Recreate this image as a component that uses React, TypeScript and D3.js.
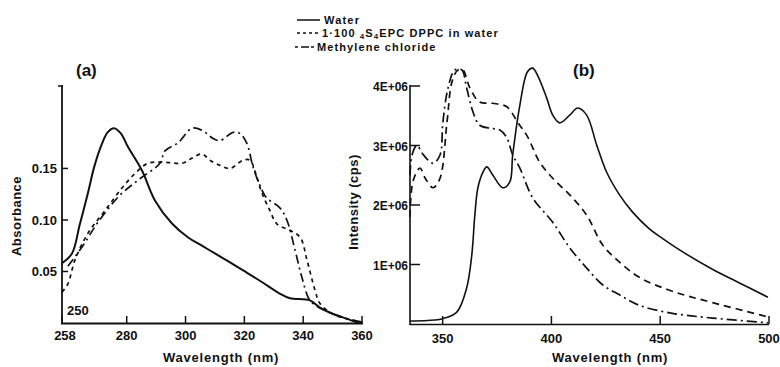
import React from "react";
import * as d3 from "d3";

// ---------- Panel (a): absorbance ----------
const waterA_nm = [258, 261.4, 264, 266.8, 269, 271.6, 273.5, 275.7, 278, 280.4, 285.2, 289.6, 295.4, 300.9, 305, 310, 315, 319.6, 325.3, 332, 335.5, 342.3, 345.7, 350, 355, 358, 360];
const waterA_abs = [0.058, 0.0675, 0.095, 0.126, 0.152, 0.174, 0.185, 0.189, 0.184, 0.171, 0.148, 0.119, 0.0966, 0.083, 0.076, 0.0675, 0.059, 0.051, 0.041, 0.0286, 0.024, 0.022, 0.015, 0.009, 0.004, 0.001, 0.0005];

const liposA_nm = [258, 260, 262.4, 266.8, 272.6, 278.4, 282.8, 287.2, 293, 298.8, 302.2, 305.6, 308.3, 311.7, 315.1, 319.6, 321.9, 324.3, 326, 328.7, 331.1, 335.5, 339, 341.3, 344, 345.7, 350, 355, 360];
const liposA_abs = [0.03, 0.038, 0.061, 0.087, 0.109, 0.131, 0.145, 0.155, 0.156, 0.155, 0.16, 0.164, 0.158, 0.153, 0.15, 0.158, 0.158, 0.141, 0.126, 0.109, 0.096, 0.09, 0.083, 0.061, 0.032, 0.019, 0.009, 0.004, 0.001];

const mcA_nm = [260, 265.1, 270.2, 277.7, 284.5, 291.3, 293, 297.5, 302.2, 305.6, 309.4, 311.7, 316.2, 318.5, 320.9, 323, 326, 327.7, 332, 334.5, 337.3, 339.6, 342.3, 346, 350, 355, 360];
const mcA_abs = [0.055, 0.075, 0.0976, 0.124, 0.14, 0.155, 0.167, 0.175, 0.189, 0.187, 0.179, 0.177, 0.185, 0.184, 0.174, 0.151, 0.129, 0.121, 0.112, 0.0995, 0.07, 0.044, 0.022, 0.014, 0.009, 0.004, 0.001];

const xTicksA = [258, 280, 300, 320, 340, 360];
const yTicksA = [0.05, 0.1, 0.15];
const yTickLabelsA = ["0.05", "0.10", "0.15"];

// ---------- Panel (b): fluorescence intensity (millions of cps) ----------
const waterB_nm = [335, 343, 350, 356.5, 361, 363.4, 364.8, 366.2, 368.5, 370.3, 373.1, 377.7, 380.9, 382.2, 385.5, 389, 391.4, 394, 397.8, 400.6, 403.8, 408.4, 412.1, 416.2, 420.8, 425.4, 431.3, 437.3, 445, 451, 460, 474, 486.4, 499.5];
const waterB_I = [0.05, 0.06, 0.09, 0.2, 0.6, 1.16, 1.83, 2.29, 2.55, 2.64, 2.5, 2.29, 2.39, 2.84, 3.68, 4.24, 4.3, 4.15, 3.8, 3.51, 3.38, 3.51, 3.63, 3.51, 3.01, 2.55, 2.17, 1.88, 1.6, 1.44, 1.22, 0.92, 0.69, 0.45];

const liposB_nm = [335, 336.4, 339.6, 342, 345.6, 348.8, 352, 354.3, 357, 359.3, 362.5, 367, 373, 379.5, 384.5, 389, 394.6, 400.6, 408.4, 416.2, 423.5, 431.3, 440.6, 455.6, 474, 499.5];
const liposB_I = [1.8, 2.4, 2.62, 2.45, 2.29, 2.45, 3.39, 4.07, 4.27, 4.27, 3.97, 3.73, 3.71, 3.65, 3.39, 3.15, 2.72, 2.45, 2.17, 1.83, 1.33, 1.04, 0.78, 0.55, 0.36, 0.12];

const mcB_nm = [335, 336, 338.2, 341, 345.6, 348.8, 350.1, 352.5, 355.6, 358.8, 361, 364, 367, 371.7, 376.3, 379.5, 382.2, 385.5, 391.4, 400.6, 408.4, 416.2, 423.5, 431.3, 440.6, 455.6, 474, 499.5];
const mcB_I = [2.5, 2.85, 3.0, 2.85, 2.7, 2.84, 3.39, 3.97, 4.27, 4.27, 3.97, 3.56, 3.34, 3.29, 3.26, 3.13, 2.84, 2.62, 2.12, 1.71, 1.28, 0.94, 0.66, 0.49, 0.31, 0.18, 0.1, 0.02];

const xTicksB = [350, 400, 450, 500];
const yTicksB = [1, 2, 3, 4];
const yTickLabelsB = ["1E+06", "2E+06", "3E+06", "4E+06"];

const legendLabels = ["Water", "1:100 4S4EPC DPPC in water", "Methylene chloride"];

const FONT = "'Liberation Sans', Arial, sans-serif";

export default function App() {
  const xA = d3.scaleLinear().domain([258, 360]).range([62, 362]);
  const yA = d3.scaleLinear().domain([0, 0.23]).range([323, 86]);
  const xB = d3.scaleLinear().domain([335, 500]).range([410, 769]);
  const yB = d3.scaleLinear().domain([0, 4]).range([324, 86]);

  const mk = (xs: number[], ys: number[], sx: any, sy: any) => {
    const pts: [number, number][] = xs.map((v, i) => [v, ys[i]]);
    return d3
      .line<[number, number]>()
      .x((d) => sx(d[0]))
      .y((d) => sy(d[1]))
      .curve(d3.curveCatmullRom.alpha(0.5))(pts) as string;
  };

  const solid = { stroke: "#111", fill: "none", strokeWidth: 1.8 };
  const dashed = { stroke: "#111", fill: "none", strokeWidth: 1.7, strokeDasharray: "5,4" };
  const dashDot = { stroke: "#111", fill: "none", strokeWidth: 1.7, strokeDasharray: "9,4,2,4" };

  const txt = { fontFamily: FONT, fontWeight: 700, fill: "#111" } as const;

  return (
    <svg width={780} height={367} style={{ position: "absolute", left: 0, top: 0, background: "#fff" }}>
      <rect width={780} height={367} fill="#fff" />

      {/* Legend */}
      <g>
        <line x1={297} x2={320} y1={20} y2={20} {...solid} strokeWidth={1.5} />
        <text x={324} y={24} fontSize={11} letterSpacing={1.2} {...txt}>{legendLabels[0]}</text>
        <line x1={297} x2={319} y1={33} y2={33} stroke="#111" strokeWidth={1.3} strokeDasharray="3,3" />
        <text x={322} y={37} fontSize={11} letterSpacing={1.1} {...txt}>
          <tspan>1·100 </tspan>
          <tspan fontSize={8} dy={1.5}>4</tspan>
          <tspan dy={-1.5}>S</tspan>
          <tspan fontSize={8} dy={1.5}>4</tspan>
          <tspan dy={-1.5}>EPC  DPPC  in water</tspan>
        </text>
        <line x1={295} x2={316} y1={47} y2={47} stroke="#111" strokeWidth={1.4} strokeDasharray="3,3,8,2" />
        <text x={317} y={51} fontSize={11} letterSpacing={1.1} {...txt}>{legendLabels[2]}</text>
      </g>

      {/* ---------- Panel (a) ---------- */}
      <text x={76} y={76} fontSize={17} {...txt}>(a)</text>
      <line x1={xA(258)} x2={xA(258)} y1={85} y2={324} stroke="#111" strokeWidth={1.8} />
      <line x1={58} x2={62} y1={86} y2={86} stroke="#111" strokeWidth={1.5} />
      <line x1={xA(258) - 1} x2={xA(360) + 1} y1={323.5} y2={323.5} stroke="#111" strokeWidth={1.8} />
      {xTicksA.map((t) => (
        <g key={"xa" + t}>
          <line x1={xA(t)} x2={xA(t)} y1={323} y2={316} stroke="#111" strokeWidth={1.5} />
          <text x={xA(t) + (t === 258 ? 3 : 0)} y={340} fontSize={13} textAnchor="middle" {...txt}>{t}</text>
        </g>
      ))}
      {yTicksA.map((t, i) => (
        <g key={"ya" + t}>
          <line x1={62} x2={68} y1={yA(t)} y2={yA(t)} stroke="#111" strokeWidth={1.5} />
          <text x={57} y={yA(t) + 5} fontSize={13} textAnchor="end" {...txt}>{yTickLabelsA[i]}</text>
        </g>
      ))}
      <text x={67} y={315} fontSize={13} {...txt}>250</text>
      <text x={221} y={362} fontSize={13} textAnchor="middle" letterSpacing={0.8} {...txt}>Wavelength (nm)</text>
      <text transform="translate(21,216) rotate(-90)" fontSize={13} textAnchor="middle" letterSpacing={0.5} {...txt}>Absorbance</text>

      <path d={mk(waterA_nm, waterA_abs, xA, yA)} {...solid} strokeWidth={2} />
      <path d={mk(liposA_nm, liposA_abs, xA, yA)} {...dashed} strokeDasharray="4,4" />
      <path d={mk(mcA_nm, mcA_abs, xA, yA)} {...dashDot} />

      {/* ---------- Panel (b) ---------- */}
      <text x={573} y={76} fontSize={17} {...txt}>(b)</text>
      <line x1={xB(335)} x2={xB(335)} y1={85} y2={325} stroke="#111" strokeWidth={1.6} />
      <line x1={xB(335)} x2={xB(500)} y1={324.5} y2={324.5} stroke="#111" strokeWidth={1.6} />
      {xTicksB.map((t) => (
        <g key={"xb" + t}>
          <line x1={xB(t)} x2={xB(t)} y1={324} y2={316} stroke="#111" strokeWidth={1.5} />
          <text x={xB(t)} y={343} fontSize={13} textAnchor="middle" {...txt}>{t}</text>
        </g>
      ))}
      {yTicksB.map((t, i) => (
        <g key={"yb" + t}>
          <line x1={410} x2={420} y1={yB(t)} y2={yB(t)} stroke="#111" strokeWidth={1.5} />
          <text x={408} y={yB(t) + 5} fontSize={12} textAnchor="end" {...txt}>{yTickLabelsB[i]}</text>
        </g>
      ))}
      <text x={610} y={362} fontSize={13} textAnchor="middle" letterSpacing={0.8} {...txt}>Wavelength (nm)</text>
      <text transform="translate(358,202) rotate(-90)" fontSize={13} textAnchor="middle" letterSpacing={0.5} {...txt}>Intensity (cps)</text>

      <path d={mk(waterB_nm, waterB_I, xB, yB)} {...solid} strokeWidth={1.6} />
      <path d={mk(liposB_nm, liposB_I, xB, yB)} {...dashed} strokeDasharray="7,5" />
      <path d={mk(mcB_nm, mcB_I, xB, yB)} {...dashDot} strokeDasharray="10,4,2,4" />
    </svg>
  );
}
